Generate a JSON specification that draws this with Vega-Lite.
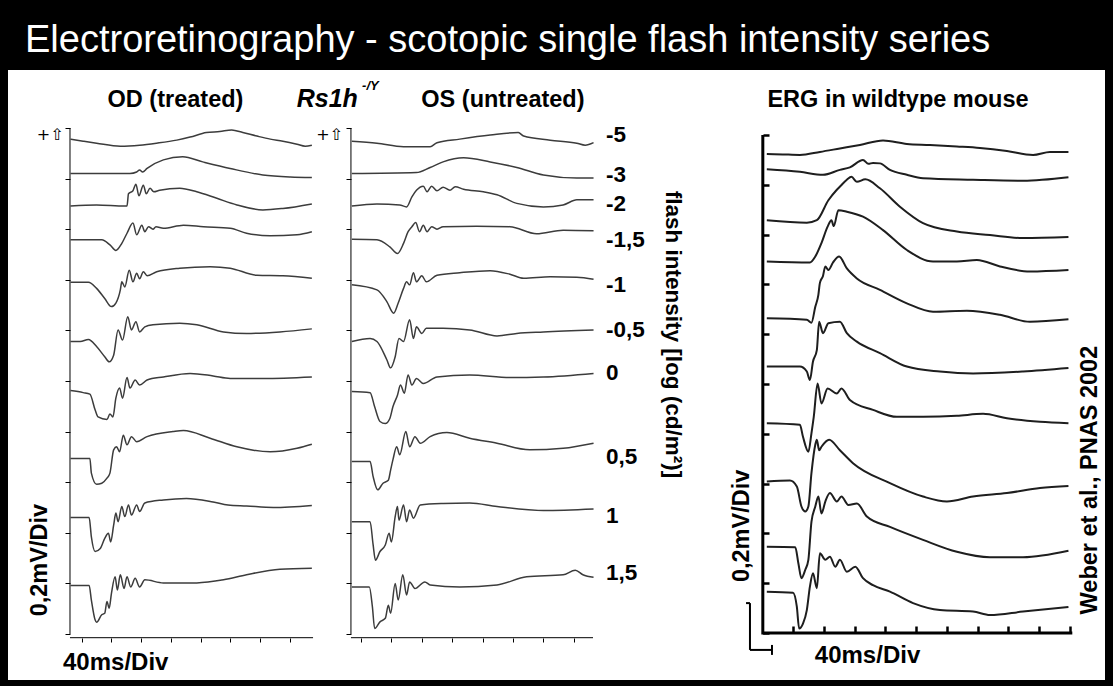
{
"$schema":"https://vega.github.io/schema/vega-lite/v6.json",
"background":"black",
"padding":{"left":8,"right":8,"top":22,"bottom":6},
"title":{"text":"Electroretinography - scotopic single flash intensity series","color":"white","font":"Liberation Sans","fontSize":38,"fontWeight":"normal","anchor":"start","offset":10,"dx":17},
"spacing":0,
"bounds":"flush",
"config":{"view":{"fill":"white","stroke":null},"text":{"font":"Liberation Sans","color":"black"}},
"datasets":{
"rs":[
{"eye":"OD","i":"-5","t":-15,"v":9.78},{"eye":"OD","i":"-5","t":2,"v":9.74},{"eye":"OD","i":"-5","t":20,"v":9.70},{"eye":"OD","i":"-5","t":52,"v":9.64},{"eye":"OD","i":"-5","t":78,"v":9.66},{"eye":"OD","i":"-5","t":101,"v":9.70},{"eye":"OD","i":"-5","t":128,"v":9.76},{"eye":"OD","i":"-5","t":146,"v":9.82},{"eye":"OD","i":"-5","t":168,"v":9.91},{"eye":"OD","i":"-5","t":186,"v":9.93},{"eye":"OD","i":"-5","t":202,"v":9.96},{"eye":"OD","i":"-5","t":217,"v":9.91},{"eye":"OD","i":"-5","t":236,"v":9.84},{"eye":"OD","i":"-5","t":254,"v":9.78},{"eye":"OD","i":"-5","t":271,"v":9.74},{"eye":"OD","i":"-5","t":290,"v":9.68},{"eye":"OD","i":"-5","t":301,"v":9.64},{"eye":"OD","i":"-5","t":310,"v":9.66},
{"eye":"OD","i":"-3","t":-15,"v":9.10},{"eye":"OD","i":"-3","t":25,"v":9.10},{"eye":"OD","i":"-3","t":65,"v":9.10},{"eye":"OD","i":"-3","t":74,"v":9.13},{"eye":"OD","i":"-3","t":78,"v":9.17},{"eye":"OD","i":"-3","t":82,"v":9.13},{"eye":"OD","i":"-3","t":88,"v":9.20},{"eye":"OD","i":"-3","t":110,"v":9.37},{"eye":"OD","i":"-3","t":136,"v":9.43},{"eye":"OD","i":"-3","t":163,"v":9.33},{"eye":"OD","i":"-3","t":200,"v":9.20},{"eye":"OD","i":"-3","t":244,"v":9.07},{"eye":"OD","i":"-3","t":281,"v":9.03},{"eye":"OD","i":"-3","t":310,"v":9.02},
{"eye":"OD","i":"-2","t":-15,"v":8.46},{"eye":"OD","i":"-2","t":20,"v":8.48},{"eye":"OD","i":"-2","t":58,"v":8.46},{"eye":"OD","i":"-2","t":61,"v":8.46},{"eye":"OD","i":"-2","t":63,"v":8.70},{"eye":"OD","i":"-2","t":69,"v":8.76},{"eye":"OD","i":"-2","t":73,"v":8.89},{"eye":"OD","i":"-2","t":77,"v":8.66},{"eye":"OD","i":"-2","t":83,"v":8.87},{"eye":"OD","i":"-2","t":87,"v":8.70},{"eye":"OD","i":"-2","t":92,"v":8.81},{"eye":"OD","i":"-2","t":97,"v":8.74},{"eye":"OD","i":"-2","t":105,"v":8.77},{"eye":"OD","i":"-2","t":132,"v":8.81},{"eye":"OD","i":"-2","t":155,"v":8.74},{"eye":"OD","i":"-2","t":182,"v":8.61},{"eye":"OD","i":"-2","t":209,"v":8.48},{"eye":"OD","i":"-2","t":244,"v":8.38},{"eye":"OD","i":"-2","t":271,"v":8.41},{"eye":"OD","i":"-2","t":310,"v":8.50},
{"eye":"OD","i":"-1,5","t":-15,"v":7.79},{"eye":"OD","i":"-1,5","t":27,"v":7.79},{"eye":"OD","i":"-1,5","t":38,"v":7.69},{"eye":"OD","i":"-1,5","t":46,"v":7.58},{"eye":"OD","i":"-1,5","t":54,"v":7.72},{"eye":"OD","i":"-1,5","t":61,"v":7.92},{"eye":"OD","i":"-1,5","t":69,"v":8.12},{"eye":"OD","i":"-1,5","t":74,"v":7.89},{"eye":"OD","i":"-1,5","t":81,"v":8.08},{"eye":"OD","i":"-1,5","t":85,"v":7.95},{"eye":"OD","i":"-1,5","t":90,"v":8.05},{"eye":"OD","i":"-1,5","t":96,"v":8.00},{"eye":"OD","i":"-1,5","t":100,"v":8.05},{"eye":"OD","i":"-1,5","t":110,"v":8.02},{"eye":"OD","i":"-1,5","t":137,"v":8.08},{"eye":"OD","i":"-1,5","t":164,"v":8.05},{"eye":"OD","i":"-1,5","t":200,"v":8.02},{"eye":"OD","i":"-1,5","t":222,"v":7.92},{"eye":"OD","i":"-1,5","t":254,"v":7.87},{"eye":"OD","i":"-1,5","t":290,"v":7.89},{"eye":"OD","i":"-1,5","t":310,"v":7.95},
{"eye":"OD","i":"-1","t":-15,"v":6.95},{"eye":"OD","i":"-1","t":9,"v":6.95},{"eye":"OD","i":"-1","t":20,"v":6.83},{"eye":"OD","i":"-1","t":31,"v":6.63},{"eye":"OD","i":"-1","t":40,"v":6.47},{"eye":"OD","i":"-1","t":46,"v":6.54},{"eye":"OD","i":"-1","t":52,"v":6.80},{"eye":"OD","i":"-1","t":54,"v":6.96},{"eye":"OD","i":"-1","t":58,"v":6.86},{"eye":"OD","i":"-1","t":64,"v":7.19},{"eye":"OD","i":"-1","t":69,"v":6.96},{"eye":"OD","i":"-1","t":74,"v":7.13},{"eye":"OD","i":"-1","t":78,"v":7.02},{"eye":"OD","i":"-1","t":83,"v":7.16},{"eye":"OD","i":"-1","t":88,"v":7.08},{"eye":"OD","i":"-1","t":101,"v":7.16},{"eye":"OD","i":"-1","t":132,"v":7.23},{"eye":"OD","i":"-1","t":173,"v":7.26},{"eye":"OD","i":"-1","t":200,"v":7.23},{"eye":"OD","i":"-1","t":236,"v":7.09},{"eye":"OD","i":"-1","t":271,"v":7.08},{"eye":"OD","i":"-1","t":310,"v":7.03},
{"eye":"OD","i":"-0,5","t":-15,"v":5.78},{"eye":"OD","i":"-0,5","t":-2,"v":5.78},{"eye":"OD","i":"-0,5","t":9,"v":5.82},{"eye":"OD","i":"-0,5","t":20,"v":5.68},{"eye":"OD","i":"-0,5","t":31,"v":5.48},{"eye":"OD","i":"-0,5","t":37,"v":5.38},{"eye":"OD","i":"-0,5","t":43,"v":5.51},{"eye":"OD","i":"-0,5","t":49,"v":6.01},{"eye":"OD","i":"-0,5","t":55,"v":5.81},{"eye":"OD","i":"-0,5","t":62,"v":6.27},{"eye":"OD","i":"-0,5","t":67,"v":6.01},{"eye":"OD","i":"-0,5","t":73,"v":6.17},{"eye":"OD","i":"-0,5","t":78,"v":5.97},{"eye":"OD","i":"-0,5","t":85,"v":6.07},{"eye":"OD","i":"-0,5","t":96,"v":6.11},{"eye":"OD","i":"-0,5","t":132,"v":6.14},{"eye":"OD","i":"-0,5","t":155,"v":6.11},{"eye":"OD","i":"-0,5","t":191,"v":5.97},{"eye":"OD","i":"-0,5","t":222,"v":5.94},{"eye":"OD","i":"-0,5","t":267,"v":5.97},{"eye":"OD","i":"-0,5","t":310,"v":6.03},
{"eye":"OD","i":"0","t":-15,"v":4.81},{"eye":"OD","i":"0","t":2,"v":4.77},{"eye":"OD","i":"0","t":11,"v":4.74},{"eye":"OD","i":"0","t":18,"v":4.43},{"eye":"OD","i":"0","t":22,"v":4.29},{"eye":"OD","i":"0","t":34,"v":4.24},{"eye":"OD","i":"0","t":38,"v":4.35},{"eye":"OD","i":"0","t":42,"v":4.29},{"eye":"OD","i":"0","t":46,"v":4.66},{"eye":"OD","i":"0","t":51,"v":4.86},{"eye":"OD","i":"0","t":55,"v":4.66},{"eye":"OD","i":"0","t":61,"v":5.07},{"eye":"OD","i":"0","t":65,"v":4.86},{"eye":"OD","i":"0","t":72,"v":5.02},{"eye":"OD","i":"0","t":78,"v":4.92},{"eye":"OD","i":"0","t":88,"v":5.02},{"eye":"OD","i":"0","t":110,"v":5.08},{"eye":"OD","i":"0","t":146,"v":5.15},{"eye":"OD","i":"0","t":177,"v":5.10},{"eye":"OD","i":"0","t":200,"v":5.05},{"eye":"OD","i":"0","t":245,"v":5.05},{"eye":"OD","i":"0","t":310,"v":5.08},
{"eye":"OD","i":"0,5","t":-15,"v":3.47},{"eye":"OD","i":"0,5","t":11,"v":3.47},{"eye":"OD","i":"0,5","t":13,"v":3.18},{"eye":"OD","i":"0,5","t":20,"v":2.96},{"eye":"OD","i":"0,5","t":27,"v":2.98},{"eye":"OD","i":"0,5","t":34,"v":3.08},{"eye":"OD","i":"0,5","t":38,"v":3.18},{"eye":"OD","i":"0,5","t":43,"v":3.64},{"eye":"OD","i":"0,5","t":47,"v":3.70},{"eye":"OD","i":"0,5","t":51,"v":3.60},{"eye":"OD","i":"0,5","t":56,"v":3.93},{"eye":"OD","i":"0,5","t":61,"v":3.74},{"eye":"OD","i":"0,5","t":67,"v":3.90},{"eye":"OD","i":"0,5","t":74,"v":3.80},{"eye":"OD","i":"0,5","t":88,"v":3.90},{"eye":"OD","i":"0,5","t":123,"v":4.00},{"eye":"OD","i":"0,5","t":137,"v":4.02},{"eye":"OD","i":"0,5","t":173,"v":3.87},{"eye":"OD","i":"0,5","t":209,"v":3.70},{"eye":"OD","i":"0,5","t":254,"v":3.60},{"eye":"OD","i":"0,5","t":290,"v":3.67},{"eye":"OD","i":"0,5","t":310,"v":3.75},
{"eye":"OD","i":"1","t":-15,"v":2.30},{"eye":"OD","i":"1","t":10,"v":2.30},{"eye":"OD","i":"1","t":13,"v":1.92},{"eye":"OD","i":"1","t":18,"v":1.63},{"eye":"OD","i":"1","t":25,"v":1.69},{"eye":"OD","i":"1","t":31,"v":1.89},{"eye":"OD","i":"1","t":36,"v":1.99},{"eye":"OD","i":"1","t":39,"v":1.82},{"eye":"OD","i":"1","t":43,"v":2.15},{"eye":"OD","i":"1","t":46,"v":2.39},{"eye":"OD","i":"1","t":49,"v":2.22},{"eye":"OD","i":"1","t":54,"v":2.52},{"eye":"OD","i":"1","t":58,"v":2.32},{"eye":"OD","i":"1","t":63,"v":2.55},{"eye":"OD","i":"1","t":67,"v":2.35},{"eye":"OD","i":"1","t":74,"v":2.55},{"eye":"OD","i":"1","t":78,"v":2.42},{"eye":"OD","i":"1","t":85,"v":2.59},{"eye":"OD","i":"1","t":110,"v":2.65},{"eye":"OD","i":"1","t":141,"v":2.68},{"eye":"OD","i":"1","t":177,"v":2.61},{"eye":"OD","i":"1","t":197,"v":2.55},{"eye":"OD","i":"1","t":222,"v":2.53},{"eye":"OD","i":"1","t":258,"v":2.50},{"eye":"OD","i":"1","t":310,"v":2.54},
{"eye":"OD","i":"1,5","t":-15,"v":0.96},{"eye":"OD","i":"1,5","t":10,"v":0.96},{"eye":"OD","i":"1,5","t":13,"v":0.67},{"eye":"OD","i":"1,5","t":18,"v":0.28},{"eye":"OD","i":"1,5","t":20,"v":0.23},{"eye":"OD","i":"1,5","t":27,"v":0.38},{"eye":"OD","i":"1,5","t":31,"v":0.41},{"eye":"OD","i":"1,5","t":34,"v":0.64},{"eye":"OD","i":"1,5","t":37,"v":0.51},{"eye":"OD","i":"1,5","t":40,"v":0.80},{"eye":"OD","i":"1,5","t":45,"v":1.13},{"eye":"OD","i":"1,5","t":48,"v":0.87},{"eye":"OD","i":"1,5","t":52,"v":1.17},{"eye":"OD","i":"1,5","t":57,"v":0.90},{"eye":"OD","i":"1,5","t":61,"v":1.13},{"eye":"OD","i":"1,5","t":66,"v":0.93},{"eye":"OD","i":"1,5","t":72,"v":1.10},{"eye":"OD","i":"1,5","t":78,"v":0.93},{"eye":"OD","i":"1,5","t":85,"v":1.07},{"eye":"OD","i":"1,5","t":110,"v":1.01},{"eye":"OD","i":"1,5","t":155,"v":1.01},{"eye":"OD","i":"1,5","t":191,"v":1.07},{"eye":"OD","i":"1,5","t":222,"v":1.17},{"eye":"OD","i":"1,5","t":267,"v":1.28},{"eye":"OD","i":"1,5","t":310,"v":1.30},
{"eye":"OS","i":"-5","t":-12,"v":9.74},{"eye":"OS","i":"-5","t":21,"v":9.70},{"eye":"OS","i":"-5","t":56,"v":9.63},{"eye":"OS","i":"-5","t":91,"v":9.63},{"eye":"OS","i":"-5","t":100,"v":9.71},{"eye":"OS","i":"-5","t":130,"v":9.78},{"eye":"OS","i":"-5","t":170,"v":9.86},{"eye":"OS","i":"-5","t":207,"v":9.91},{"eye":"OS","i":"-5","t":214,"v":9.84},{"eye":"OS","i":"-5","t":249,"v":9.76},{"eye":"OS","i":"-5","t":284,"v":9.70},{"eye":"OS","i":"-5","t":295,"v":9.66},{"eye":"OS","i":"-5","t":306,"v":9.71},
{"eye":"OS","i":"-3","t":-12,"v":9.10},{"eye":"OS","i":"-3","t":73,"v":9.12},{"eye":"OS","i":"-3","t":91,"v":9.22},{"eye":"OS","i":"-3","t":108,"v":9.33},{"eye":"OS","i":"-3","t":135,"v":9.41},{"eye":"OS","i":"-3","t":170,"v":9.33},{"eye":"OS","i":"-3","t":205,"v":9.22},{"eye":"OS","i":"-3","t":240,"v":9.07},{"eye":"OS","i":"-3","t":284,"v":9.01},{"eye":"OS","i":"-3","t":306,"v":9.01},
{"eye":"OS","i":"-2","t":-12,"v":8.46},{"eye":"OS","i":"-2","t":21,"v":8.50},{"eye":"OS","i":"-2","t":51,"v":8.48},{"eye":"OS","i":"-2","t":60,"v":8.44},{"eye":"OS","i":"-2","t":67,"v":8.64},{"eye":"OS","i":"-2","t":73,"v":8.77},{"eye":"OS","i":"-2","t":82,"v":8.85},{"eye":"OS","i":"-2","t":87,"v":8.74},{"eye":"OS","i":"-2","t":93,"v":8.85},{"eye":"OS","i":"-2","t":100,"v":8.76},{"eye":"OS","i":"-2","t":108,"v":8.83},{"eye":"OS","i":"-2","t":117,"v":8.77},{"eye":"OS","i":"-2","t":124,"v":8.84},{"eye":"OS","i":"-2","t":135,"v":8.79},{"eye":"OS","i":"-2","t":161,"v":8.74},{"eye":"OS","i":"-2","t":179,"v":8.68},{"eye":"OS","i":"-2","t":205,"v":8.51},{"eye":"OS","i":"-2","t":240,"v":8.44},{"eye":"OS","i":"-2","t":266,"v":8.48},{"eye":"OS","i":"-2","t":284,"v":8.58},{"eye":"OS","i":"-2","t":306,"v":8.58},
{"eye":"OS","i":"-1,5","t":-12,"v":7.80},{"eye":"OS","i":"-1,5","t":21,"v":7.79},{"eye":"OS","i":"-1,5","t":38,"v":7.65},{"eye":"OS","i":"-1,5","t":48,"v":7.52},{"eye":"OS","i":"-1,5","t":56,"v":7.72},{"eye":"OS","i":"-1,5","t":62,"v":7.95},{"eye":"OS","i":"-1,5","t":67,"v":8.05},{"eye":"OS","i":"-1,5","t":72,"v":8.13},{"eye":"OS","i":"-1,5","t":77,"v":7.95},{"eye":"OS","i":"-1,5","t":82,"v":8.08},{"eye":"OS","i":"-1,5","t":87,"v":7.95},{"eye":"OS","i":"-1,5","t":93,"v":8.05},{"eye":"OS","i":"-1,5","t":100,"v":8.00},{"eye":"OS","i":"-1,5","t":108,"v":8.05},{"eye":"OS","i":"-1,5","t":152,"v":8.06},{"eye":"OS","i":"-1,5","t":196,"v":8.05},{"eye":"OS","i":"-1,5","t":231,"v":7.91},{"eye":"OS","i":"-1,5","t":266,"v":7.98},{"eye":"OS","i":"-1,5","t":306,"v":7.97},
{"eye":"OS","i":"-1","t":-12,"v":6.90},{"eye":"OS","i":"-1","t":21,"v":6.80},{"eye":"OS","i":"-1","t":34,"v":6.57},{"eye":"OS","i":"-1","t":43,"v":6.34},{"eye":"OS","i":"-1","t":49,"v":6.54},{"eye":"OS","i":"-1","t":56,"v":6.83},{"eye":"OS","i":"-1","t":60,"v":6.96},{"eye":"OS","i":"-1","t":64,"v":6.90},{"eye":"OS","i":"-1","t":69,"v":7.14},{"eye":"OS","i":"-1","t":73,"v":6.96},{"eye":"OS","i":"-1","t":80,"v":7.08},{"eye":"OS","i":"-1","t":86,"v":6.96},{"eye":"OS","i":"-1","t":100,"v":7.09},{"eye":"OS","i":"-1","t":130,"v":7.14},{"eye":"OS","i":"-1","t":170,"v":7.18},{"eye":"OS","i":"-1","t":196,"v":7.11},{"eye":"OS","i":"-1","t":214,"v":7.03},{"eye":"OS","i":"-1","t":249,"v":7.06},{"eye":"OS","i":"-1","t":284,"v":7.05},{"eye":"OS","i":"-1","t":306,"v":7.01},
{"eye":"OS","i":"-0,5","t":-12,"v":5.78},{"eye":"OS","i":"-0,5","t":12,"v":5.84},{"eye":"OS","i":"-0,5","t":21,"v":5.78},{"eye":"OS","i":"-0,5","t":34,"v":5.42},{"eye":"OS","i":"-0,5","t":39,"v":5.26},{"eye":"OS","i":"-0,5","t":45,"v":5.48},{"eye":"OS","i":"-0,5","t":50,"v":5.84},{"eye":"OS","i":"-0,5","t":56,"v":5.78},{"eye":"OS","i":"-0,5","t":64,"v":6.21},{"eye":"OS","i":"-0,5","t":69,"v":5.84},{"eye":"OS","i":"-0,5","t":73,"v":6.07},{"eye":"OS","i":"-0,5","t":80,"v":5.94},{"eye":"OS","i":"-0,5","t":86,"v":6.04},{"eye":"OS","i":"-0,5","t":108,"v":6.04},{"eye":"OS","i":"-0,5","t":143,"v":6.01},{"eye":"OS","i":"-0,5","t":179,"v":5.89},{"eye":"OS","i":"-0,5","t":205,"v":5.94},{"eye":"OS","i":"-0,5","t":240,"v":5.97},{"eye":"OS","i":"-0,5","t":306,"v":6.01},
{"eye":"OS","i":"0","t":-12,"v":4.79},{"eye":"OS","i":"0","t":12,"v":4.77},{"eye":"OS","i":"0","t":18,"v":4.49},{"eye":"OS","i":"0","t":25,"v":4.20},{"eye":"OS","i":"0","t":32,"v":4.16},{"eye":"OS","i":"0","t":38,"v":4.26},{"eye":"OS","i":"0","t":42,"v":4.49},{"eye":"OS","i":"0","t":48,"v":4.72},{"eye":"OS","i":"0","t":52,"v":4.92},{"eye":"OS","i":"0","t":57,"v":4.76},{"eye":"OS","i":"0","t":62,"v":5.12},{"eye":"OS","i":"0","t":67,"v":4.92},{"eye":"OS","i":"0","t":73,"v":5.05},{"eye":"OS","i":"0","t":82,"v":4.95},{"eye":"OS","i":"0","t":100,"v":5.08},{"eye":"OS","i":"0","t":143,"v":5.12},{"eye":"OS","i":"0","t":196,"v":5.07},{"eye":"OS","i":"0","t":240,"v":5.08},{"eye":"OS","i":"0","t":306,"v":5.15},
{"eye":"OS","i":"0,5","t":-12,"v":3.41},{"eye":"OS","i":"0,5","t":12,"v":3.41},{"eye":"OS","i":"0,5","t":16,"v":3.11},{"eye":"OS","i":"0,5","t":22,"v":2.85},{"eye":"OS","i":"0,5","t":29,"v":2.98},{"eye":"OS","i":"0,5","t":36,"v":3.04},{"eye":"OS","i":"0,5","t":39,"v":3.24},{"eye":"OS","i":"0,5","t":42,"v":3.44},{"eye":"OS","i":"0,5","t":47,"v":3.70},{"eye":"OS","i":"0,5","t":51,"v":3.54},{"eye":"OS","i":"0,5","t":59,"v":4.00},{"eye":"OS","i":"0,5","t":64,"v":3.70},{"eye":"OS","i":"0,5","t":71,"v":3.90},{"eye":"OS","i":"0,5","t":78,"v":3.77},{"eye":"OS","i":"0,5","t":91,"v":3.90},{"eye":"OS","i":"0,5","t":113,"v":3.98},{"eye":"OS","i":"0,5","t":143,"v":3.87},{"eye":"OS","i":"0,5","t":179,"v":3.77},{"eye":"OS","i":"0,5","t":222,"v":3.64},{"eye":"OS","i":"0,5","t":266,"v":3.67},{"eye":"OS","i":"0,5","t":306,"v":3.77},
{"eye":"OS","i":"1","t":-12,"v":2.22},{"eye":"OS","i":"1","t":12,"v":2.22},{"eye":"OS","i":"1","t":16,"v":1.76},{"eye":"OS","i":"1","t":19,"v":1.46},{"eye":"OS","i":"1","t":25,"v":1.63},{"eye":"OS","i":"1","t":32,"v":1.76},{"eye":"OS","i":"1","t":37,"v":1.99},{"eye":"OS","i":"1","t":40,"v":1.82},{"eye":"OS","i":"1","t":45,"v":2.32},{"eye":"OS","i":"1","t":48,"v":2.52},{"eye":"OS","i":"1","t":50,"v":2.25},{"eye":"OS","i":"1","t":56,"v":2.55},{"eye":"OS","i":"1","t":60,"v":2.22},{"eye":"OS","i":"1","t":64,"v":2.45},{"eye":"OS","i":"1","t":69,"v":2.29},{"eye":"OS","i":"1","t":78,"v":2.55},{"eye":"OS","i":"1","t":108,"v":2.58},{"eye":"OS","i":"1","t":143,"v":2.59},{"eye":"OS","i":"1","t":179,"v":2.52},{"eye":"OS","i":"1","t":240,"v":2.44},{"eye":"OS","i":"1","t":306,"v":2.47},
{"eye":"OS","i":"1,5","t":-12,"v":0.93},{"eye":"OS","i":"1,5","t":11,"v":0.93},{"eye":"OS","i":"1,5","t":15,"v":0.54},{"eye":"OS","i":"1,5","t":18,"v":0.11},{"eye":"OS","i":"1,5","t":25,"v":0.24},{"eye":"OS","i":"1,5","t":32,"v":0.31},{"eye":"OS","i":"1,5","t":36,"v":0.57},{"eye":"OS","i":"1,5","t":39,"v":0.41},{"eye":"OS","i":"1,5","t":45,"v":1.00},{"eye":"OS","i":"1,5","t":49,"v":0.67},{"eye":"OS","i":"1,5","t":55,"v":1.17},{"eye":"OS","i":"1,5","t":60,"v":0.77},{"eye":"OS","i":"1,5","t":64,"v":1.03},{"eye":"OS","i":"1,5","t":71,"v":0.90},{"eye":"OS","i":"1,5","t":84,"v":1.03},{"eye":"OS","i":"1,5","t":91,"v":0.97},{"eye":"OS","i":"1,5","t":130,"v":0.93},{"eye":"OS","i":"1,5","t":179,"v":0.97},{"eye":"OS","i":"1,5","t":218,"v":1.13},{"eye":"OS","i":"1,5","t":266,"v":1.17},{"eye":"OS","i":"1,5","t":282,"v":1.26},{"eye":"OS","i":"1,5","t":292,"v":1.17},{"eye":"OS","i":"1,5","t":306,"v":1.12}
],
"wt":[
{"i":1,"t":6,"v":9.62},{"i":1,"t":27,"v":9.61},{"i":1,"t":49,"v":9.60},{"i":1,"t":75,"v":9.66},{"i":1,"t":101,"v":9.73},{"i":1,"t":127,"v":9.80},{"i":1,"t":157,"v":9.89},{"i":1,"t":188,"v":9.82},{"i":1,"t":218,"v":9.80},{"i":1,"t":253,"v":9.77},{"i":1,"t":283,"v":9.74},{"i":1,"t":318,"v":9.68},{"i":1,"t":352,"v":9.60},{"i":1,"t":374,"v":9.66},{"i":1,"t":398,"v":9.66},
{"i":2,"t":6,"v":9.31},{"i":2,"t":49,"v":9.26},{"i":2,"t":79,"v":9.20},{"i":2,"t":101,"v":9.30},{"i":2,"t":114,"v":9.35},{"i":2,"t":131,"v":9.50},{"i":2,"t":138,"v":9.42},{"i":2,"t":144,"v":9.44},{"i":2,"t":153,"v":9.43},{"i":2,"t":166,"v":9.30},{"i":2,"t":188,"v":9.20},{"i":2,"t":209,"v":9.13},{"i":2,"t":274,"v":9.10},{"i":2,"t":339,"v":9.08},{"i":2,"t":398,"v":9.15},
{"i":3,"t":6,"v":8.29},{"i":3,"t":58,"v":8.24},{"i":3,"t":71,"v":8.29},{"i":3,"t":86,"v":8.69},{"i":3,"t":97,"v":8.90},{"i":3,"t":102,"v":8.98},{"i":3,"t":110,"v":9.10},{"i":3,"t":116,"v":9.16},{"i":3,"t":123,"v":9.06},{"i":3,"t":134,"v":9.11},{"i":3,"t":153,"v":8.93},{"i":3,"t":179,"v":8.56},{"i":3,"t":209,"v":8.23},{"i":3,"t":253,"v":8.06},{"i":3,"t":296,"v":7.99},{"i":3,"t":339,"v":7.93},{"i":3,"t":398,"v":7.95},
{"i":4,"t":6,"v":7.46},{"i":4,"t":62,"v":7.44},{"i":4,"t":69,"v":7.56},{"i":4,"t":77,"v":7.83},{"i":4,"t":85,"v":8.16},{"i":4,"t":90,"v":8.29},{"i":4,"t":93,"v":8.17},{"i":4,"t":99,"v":8.49},{"i":4,"t":110,"v":8.46},{"i":4,"t":131,"v":8.36},{"i":4,"t":157,"v":8.09},{"i":4,"t":188,"v":7.69},{"i":4,"t":222,"v":7.46},{"i":4,"t":253,"v":7.46},{"i":4,"t":279,"v":7.49},{"i":4,"t":309,"v":7.36},{"i":4,"t":348,"v":7.26},{"i":4,"t":398,"v":7.29},
{"i":5,"t":6,"v":6.32},{"i":5,"t":58,"v":6.29},{"i":5,"t":64,"v":6.23},{"i":5,"t":69,"v":6.55},{"i":5,"t":73,"v":6.79},{"i":5,"t":75,"v":7.03},{"i":5,"t":79,"v":7.17},{"i":5,"t":82,"v":7.36},{"i":5,"t":86,"v":7.29},{"i":5,"t":92,"v":7.44},{"i":5,"t":100,"v":7.56},{"i":5,"t":110,"v":7.32},{"i":5,"t":123,"v":7.12},{"i":5,"t":153,"v":6.89},{"i":5,"t":188,"v":6.62},{"i":5,"t":222,"v":6.45},{"i":5,"t":266,"v":6.47},{"i":5,"t":309,"v":6.39},{"i":5,"t":348,"v":6.25},{"i":5,"t":398,"v":6.30},
{"i":6,"t":6,"v":5.35},{"i":6,"t":49,"v":5.35},{"i":6,"t":58,"v":5.25},{"i":6,"t":62,"v":5.08},{"i":6,"t":66,"v":5.45},{"i":6,"t":71,"v":5.68},{"i":6,"t":74,"v":6.25},{"i":6,"t":79,"v":6.02},{"i":6,"t":86,"v":6.22},{"i":6,"t":101,"v":6.25},{"i":6,"t":110,"v":6.02},{"i":6,"t":123,"v":5.85},{"i":6,"t":153,"v":5.62},{"i":6,"t":188,"v":5.35},{"i":6,"t":231,"v":5.25},{"i":6,"t":274,"v":5.21},{"i":6,"t":339,"v":5.25},{"i":6,"t":398,"v":5.32},
{"i":7,"t":6,"v":4.21},{"i":7,"t":49,"v":4.18},{"i":7,"t":53,"v":3.94},{"i":7,"t":60,"v":3.64},{"i":7,"t":64,"v":4.01},{"i":7,"t":67,"v":4.34},{"i":7,"t":72,"v":5.01},{"i":7,"t":77,"v":4.61},{"i":7,"t":85,"v":4.91},{"i":7,"t":97,"v":4.81},{"i":7,"t":103,"v":4.91},{"i":7,"t":114,"v":4.68},{"i":7,"t":144,"v":4.48},{"i":7,"t":175,"v":4.34},{"i":7,"t":209,"v":4.34},{"i":7,"t":253,"v":4.36},{"i":7,"t":287,"v":4.40},{"i":7,"t":318,"v":4.31},{"i":7,"t":361,"v":4.24},{"i":7,"t":398,"v":4.21},
{"i":8,"t":6,"v":3.04},{"i":8,"t":36,"v":3.06},{"i":8,"t":45,"v":2.94},{"i":8,"t":51,"v":2.54},{"i":8,"t":56,"v":2.44},{"i":8,"t":60,"v":2.54},{"i":8,"t":64,"v":3.21},{"i":8,"t":69,"v":3.78},{"i":8,"t":71,"v":3.88},{"i":8,"t":74,"v":3.67},{"i":8,"t":77,"v":3.74},{"i":8,"t":87,"v":3.88},{"i":8,"t":101,"v":3.67},{"i":8,"t":118,"v":3.41},{"i":8,"t":166,"v":3.01},{"i":8,"t":209,"v":2.74},{"i":8,"t":240,"v":2.64},{"i":8,"t":274,"v":2.74},{"i":8,"t":318,"v":2.81},{"i":8,"t":361,"v":2.91},{"i":8,"t":398,"v":2.95},
{"i":9,"t":6,"v":1.73},{"i":9,"t":43,"v":1.72},{"i":9,"t":47,"v":1.40},{"i":9,"t":51,"v":1.10},{"i":9,"t":56,"v":1.27},{"i":9,"t":60,"v":1.47},{"i":9,"t":64,"v":2.23},{"i":9,"t":69,"v":2.54},{"i":9,"t":73,"v":2.74},{"i":9,"t":77,"v":2.40},{"i":9,"t":82,"v":2.64},{"i":9,"t":88,"v":2.81},{"i":9,"t":97,"v":2.64},{"i":9,"t":103,"v":2.74},{"i":9,"t":112,"v":2.57},{"i":9,"t":123,"v":2.60},{"i":9,"t":136,"v":2.34},{"i":9,"t":166,"v":2.13},{"i":9,"t":209,"v":1.87},{"i":9,"t":253,"v":1.63},{"i":9,"t":296,"v":1.52},{"i":9,"t":339,"v":1.52},{"i":9,"t":398,"v":1.65},
{"i":10,"t":6,"v":0.83},{"i":10,"t":40,"v":0.81},{"i":10,"t":45,"v":0.53},{"i":10,"t":48,"v":0.09},{"i":10,"t":53,"v":0.19},{"i":10,"t":58,"v":0.46},{"i":10,"t":62,"v":0.93},{"i":10,"t":66,"v":1.20},{"i":10,"t":71,"v":0.90},{"i":10,"t":75,"v":1.60},{"i":10,"t":82,"v":1.47},{"i":10,"t":88,"v":1.53},{"i":10,"t":95,"v":1.33},{"i":10,"t":101,"v":1.47},{"i":10,"t":110,"v":1.23},{"i":10,"t":121,"v":1.33},{"i":10,"t":131,"v":1.10},{"i":10,"t":144,"v":0.96},{"i":10,"t":166,"v":0.83},{"i":10,"t":196,"v":0.60},{"i":10,"t":231,"v":0.46},{"i":10,"t":274,"v":0.43},{"i":10,"t":296,"v":0.36},{"i":10,"t":339,"v":0.43},{"i":10,"t":398,"v":0.52}
],
"lev":[
{"i":"-5","v":9.86},{"i":"-3","v":9.08},{"i":"-2","v":8.50},{"i":"-1,5","v":7.78},{"i":"-1","v":6.90},{"i":"-0,5","v":6.01},{"i":"0","v":5.16},{"i":"0,5","v":3.50},{"i":"1","v":2.33},{"i":"1,5","v":1.21}
]
},
"hconcat":[
{"width":332,"height":610,
"layer":[
{"data":{"name":"rs"},"transform":[{"filter":"datum.eye === 'OD'"}],
"mark":{"type":"line","color":"#3c3c3c","strokeWidth":1.5,"interpolate":"monotone"},
"encoding":{
"x":{"field":"t","type":"quantitative","scale":{"domain":[-99.3,347.9],"nice":false,"zero":false},"axis":{"orient":"bottom","offset":-42,"values":[0,40,80,120,160,200,240,280],"domain":false,"labels":false,"grid":false,"tickSize":4,"tickColor":"black","tickWidth":1,"title":null}},
"y":{"field":"v","type":"quantitative","scale":{"domain":[-0.909,11.146],"nice":false,"zero":false},"axis":{"orient":"left","offset":-62,"values":[0,1,2,3,4,5,6,7,8,9,10],"domain":false,"labels":false,"grid":false,"tickSize":5,"tickColor":"black","tickWidth":1,"title":null}},
"detail":{"field":"i"}}},
{"data":{"values":[{}]},"mark":{"type":"rule","color":"black","strokeWidth":1},"encoding":{"x":{"datum":-15.8},"y":{"datum":0},"y2":{"datum":10}}},
{"data":{"values":[{}]},"mark":{"type":"rule","color":"black","strokeWidth":1},"encoding":{"x":{"datum":-15.8},"x2":{"datum":311.6},"y":{"datum":-0.073}}},
{"data":{"values":[{}]},"mark":{"type":"text","fontSize":23.5,"fontWeight":"bold","align":"center","baseline":"alphabetic"},"encoding":{"x":{"datum":126.3},"y":{"datum":10.42},"text":{"value":"OD (treated)"}}},
{"data":{"values":[{}]},"mark":{"type":"text","fontSize":23.5,"fontWeight":"bold","align":"center","baseline":"middle","angle":270},"encoding":{"x":{"datum":-56.2},"y":{"datum":1.46},"text":{"value":"0,2mV/Div"}}},
{"data":{"values":[{}]},"mark":{"type":"text","fontSize":24,"fontWeight":"bold","align":"left","baseline":"alphabetic"},"encoding":{"x":{"datum":-25.2},"y":{"datum":-0.71},"text":{"value":"40ms/Div"}}},
{"data":{"values":[{}]},"mark":{"type":"text","fontSize":16,"font":"DejaVu Sans","color":"black","align":"right","baseline":"alphabetic"},"encoding":{"x":{"datum":-24.5},"y":{"datum":9.76},"text":{"value":"+⇧"}}}
]},
{"width":400,"height":610,
"layer":[
{"data":{"name":"rs"},"transform":[{"filter":"datum.eye === 'OS'"}],
"mark":{"type":"line","color":"#3c3c3c","strokeWidth":1.5,"interpolate":"monotone"},
"encoding":{
"x":{"field":"t","type":"quantitative","scale":{"domain":[-27.6,498.7],"nice":false,"zero":false},"axis":{"orient":"bottom","offset":-42,"values":[0,40,80,120,160,200,240,280],"domain":false,"labels":false,"grid":false,"tickSize":4,"tickColor":"black","tickWidth":1,"title":null}},
"y":{"field":"v","type":"quantitative","scale":{"domain":[-0.909,11.146],"nice":false,"zero":false},"axis":{"orient":"left","offset":-11,"values":[0,1,2,3,4,5,6,7,8,9,10],"domain":false,"labels":false,"grid":false,"tickSize":5,"tickColor":"black","tickWidth":1,"title":null}},
"detail":{"field":"i"}}},
{"data":{"values":[{}]},"mark":{"type":"rule","color":"black","strokeWidth":1},"encoding":{"x":{"datum":-13.2},"y":{"datum":0},"y2":{"datum":10}}},
{"data":{"values":[{}]},"mark":{"type":"rule","color":"black","strokeWidth":1},"encoding":{"x":{"datum":-13.2},"x2":{"datum":305.3},"y":{"datum":-0.073}}},
{"data":{"values":[{}]},"mark":{"type":"text","fontSize":23.5,"fontWeight":"bold","align":"center","baseline":"alphabetic"},"encoding":{"x":{"datum":186.8},"y":{"datum":10.42},"text":{"value":"OS (untreated)"}}},
{"data":{"values":[{}]},"mark":{"type":"text","fontSize":25,"fontWeight":"bold","fontStyle":"italic","align":"left","baseline":"alphabetic"},"encoding":{"x":{"datum":-84.6},"y":{"datum":10.42},"text":{"value":"Rs1h"}}},
{"data":{"values":[{}]},"mark":{"type":"text","fontSize":13,"fontWeight":"bold","fontStyle":"italic","align":"left","baseline":"alphabetic"},"encoding":{"x":{"datum":1.5},"y":{"datum":10.75},"text":{"value":"-/Y"}}},
{"data":{"values":[{}]},"mark":{"type":"text","fontSize":16,"font":"DejaVu Sans","color":"black","align":"right","baseline":"alphabetic"},"encoding":{"x":{"datum":-23.7},"y":{"datum":9.76},"text":{"value":"+⇧"}}},
{"data":{"name":"lev"},"mark":{"type":"text","fontSize":22.5,"fontWeight":"bold","align":"left","baseline":"middle"},"encoding":{"x":{"datum":322.4},"y":{"field":"v","type":"quantitative"},"text":{"field":"i"}}},
{"data":{"values":[{}]},"mark":{"type":"text","fontSize":22.5,"fontWeight":"bold","align":"center","baseline":"middle","angle":90},"encoding":{"x":{"datum":410.5},"y":{"datum":5.92},"text":{"value":"flash intensity [log (cd/m²)]"}}}
]},
{"width":365,"height":610,
"layer":[
{"data":{"name":"wt"},
"mark":{"type":"line","color":"#1e1e1e","strokeWidth":2,"interpolate":"monotone"},
"encoding":{
"x":{"field":"t","type":"quantitative","scale":{"domain":[-28.85,445.5],"nice":false,"zero":false},"axis":{"orient":"bottom","offset":-47,"values":[40,80,120,160,200,240,280,320,360,400],"domain":false,"labels":false,"grid":false,"tickSize":-7,"tickColor":"black","tickWidth":2.5,"title":null}},
"y":{"field":"v","type":"quantitative","scale":{"domain":[-0.944,11.305],"nice":false,"zero":false},"axis":{"orient":"left","offset":-23,"values":[0,1,2,3,4,5,6,7,8,9,10],"domain":false,"labels":false,"grid":false,"tickSize":-6,"tickColor":"black","tickWidth":2.5,"title":null}},
"detail":{"field":"i"}}},
{"data":{"values":[{}]},"mark":{"type":"rule","color":"black","strokeWidth":3},"encoding":{"x":{"datum":0.8},"y":{"datum":-0.03},"y2":{"datum":10}}},
{"data":{"values":[{}]},"mark":{"type":"rule","color":"black","strokeWidth":3},"encoding":{"x":{"datum":0.8},"x2":{"datum":403},"y":{"datum":0}}},
{"data":{"values":[{}]},"mark":{"type":"rule","color":"black","strokeWidth":2},"encoding":{"x":{"datum":-15.9},"y":{"datum":-0.34},"y2":{"datum":0.6}}},
{"data":{"values":[{}]},"mark":{"type":"rule","color":"black","strokeWidth":2},"encoding":{"x":{"datum":-15.9},"x2":{"datum":12.7},"y":{"datum":-0.34}}},
{"data":{"values":[{}]},"mark":{"type":"rule","color":"black","strokeWidth":2},"encoding":{"x":{"datum":-21},"x2":{"datum":-15.9},"y":{"datum":0.6}}},
{"data":{"values":[{}]},"mark":{"type":"rule","color":"black","strokeWidth":2},"encoding":{"x":{"datum":12.7},"y":{"datum":-0.24},"y2":{"datum":-0.44}}},
{"data":{"values":[{}]},"mark":{"type":"text","fontSize":23.5,"fontWeight":"bold","align":"center","baseline":"alphabetic"},"encoding":{"x":{"datum":176.5},"y":{"datum":10.57},"text":{"value":"ERG in wildtype mouse"}}},
{"data":{"values":[{}]},"mark":{"type":"text","fontSize":23.5,"fontWeight":"bold","align":"center","baseline":"middle","angle":270},"encoding":{"x":{"datum":-26.3},"y":{"datum":2.15},"text":{"value":"0,2mV/Div"}}},
{"data":{"values":[{}]},"mark":{"type":"text","fontSize":24,"fontWeight":"bold","align":"left","baseline":"alphabetic"},"encoding":{"x":{"datum":68.4},"y":{"datum":-0.61},"text":{"value":"40ms/Div"}}},
{"data":{"values":[{}]},"mark":{"type":"text","fontSize":23.5,"fontWeight":"bold","align":"center","baseline":"middle","angle":270},"encoding":{"x":{"datum":426},"y":{"datum":3.07},"text":{"value":"Weber et al., PNAS 2002"}}}
]}
]
}
